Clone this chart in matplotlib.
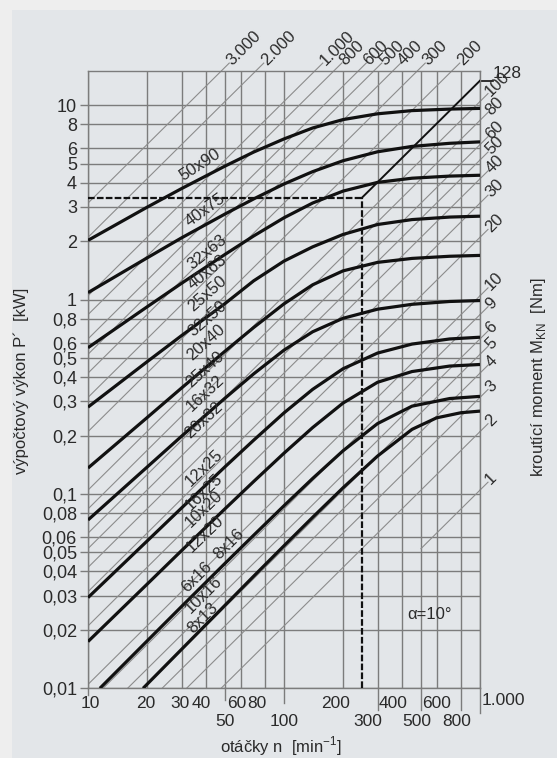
import numpy as np
import matplotlib
matplotlib.use("Agg")
import matplotlib.pyplot as plt
from matplotlib.patches import Rectangle
import matplotlib.transforms as mtransforms

plt.rcParams['font.family'] = ['Liberation Sans', 'DejaVu Sans']
plt.rcParams['mathtext.fontset'] = 'custom'
plt.rcParams['mathtext.rm'] = 'Liberation Sans'

# ---- data ----
n_std = [10, 20, 30, 50, 70, 100, 140, 200, 300, 450, 700, 1000]
p_50x90 = [2.02, 2.99, 3.73, 4.87, 5.75, 6.72, 7.65, 8.45, 9.05, 9.4, 9.57, 9.65]
p_40x75 = [1.087, 1.64, 2.08, 2.76, 3.3, 3.94, 4.56, 5.19, 5.77, 6.15, 6.38, 6.49]
p_40x63 = [0.566, 0.918, 1.214, 1.71, 2.128, 2.64, 3.144, 3.621, 4.015, 4.219, 4.326, 4.37]
p_32x50 = [0.28, 0.479, 0.653, 0.955, 1.25, 1.58, 1.87, 2.166, 2.437, 2.584, 2.662, 2.69]
p_25x40 = [0.136, 0.247, 0.351, 0.543, 0.719, 0.952, 1.193, 1.407, 1.556, 1.631, 1.673, 1.69]
p_20x32 = [0.0735, 0.1374, 0.1982, 0.3113, 0.4151, 0.55, 0.6837, 0.8021, 0.8935, 0.9467,
           0.979, 0.99]
p_16x25 = [0.0293, 0.0572, 0.0847, 0.138, 0.1891, 0.2615, 0.3455, 0.441, 0.5312, 0.591,
           0.6279, 0.641]
p_12x20 = [0.0174, 0.0343, 0.0511, 0.0839, 0.1159, 0.1622, 0.2197, 0.2937, 0.3758, 0.4268,
           0.4554, 0.464]
n_8x16 = [11.5, 20, 30, 50, 70, 100, 140, 200, 300, 450, 700, 1000]
p_8x16 = [0.01, 0.0175, 0.02635, 0.04394, 0.0613, 0.087, 0.1202, 0.1668, 0.2303, 0.2832,
          0.3099, 0.318]
n_8x13 = [19.1, 30, 50, 70, 100, 140, 200, 300, 450, 600, 800, 1000]
p_8x13 = [0.01, 0.01586, 0.02675, 0.03773, 0.05414, 0.07583, 0.1076, 0.1567, 0.2151, 0.2465,
          0.262, 0.267]

curves = [(n_std, p_50x90), (n_std, p_40x75), (n_std, p_40x63), (n_std, p_32x50),
          (n_std, p_25x40), (n_std, p_20x32), (n_std, p_16x25), (n_std, p_12x20),
          (n_8x16, p_8x16), (n_8x13, p_8x13)]

# curve labels: text, n, P, rotation
curve_labels = [('50x90', 37.3, 4.93, 33), ('40x75', 39.5, 2.89, 36),
                ('32x63', 40.5, 1.76, 39), ('40x63', 40.5, 1.39, 39),
                ('25x50', 40.5, 1.08, 41), ('32x50', 40.5, 0.80, 41),
                ('20x40', 40.0, 0.60, 42), ('25x40', 39.5, 0.44, 42),
                ('16x32', 39.5, 0.33, 43), ('20x32', 39.1, 0.24, 43),
                ('12x25', 39.1, 0.137, 44), ('16x25', 39.1, 0.102, 44),
                ('10x20', 39.1, 0.0836, 44), ('12x20', 39.5, 0.0622, 44),
                ('6x16', 35.9, 0.0373, 45), ('8x16', 52.4, 0.0552, 45),
                ('10x16', 39.1, 0.0302, 45), ('8x13', 38.6, 0.023, 45)]

# torque lines [Nm]
torque_right = [1, 2, 3, 4, 5, 6, 8, 10, 20, 30, 40, 50, 60, 80, 100]
torque_right_labels = ['1', '2', '3', '4', '5', '6', '9', '10', '20', '30',
                       '40', '50', '60', '80', '100']
torque_top = [200, 300, 400, 500, 600, 800, 1000, 2000, 3000]
torque_top_labels = ['200', '300', '400', '500', '600', '800', '1.000',
                     '2.000', '3.000']
torque_1_start = 500       # the 1 Nm line starts here
example_M = 128
example_n = 250

ytick_vals = [10, 8, 6, 5, 4, 3, 2, 1, 0.8, 0.6, 0.5, 0.4, 0.3, 0.2, 0.1,
              0.08, 0.06, 0.05, 0.04, 0.03, 0.02, 0.01]
ytick_labels = ['10', '8', '6', '5', '4', '3', '2', '1', '0,8', '0,6', '0,5',
                '0,4', '0,3', '0,2', '0,1', '0,08', '0,06', '0,05', '0,04',
                '0,03', '0,02', '0,01']
xgrid_vals = [10, 20, 30, 40, 50, 60, 80, 100, 200, 300, 400, 500, 600, 800, 1000]
# x tick labels: value, text, row, x offset in px
xtick_labels = [(10, '10', 0, 2), (20, '20', 0, -1), (30, '30', 0, -2),
                (40, '40', 0, -5), (50, '50', 1, 0), (60, '60', 0, -4),
                (80, '80', 0, -8), (100, '100', 1, 0), (200, '200', 0, -7),
                (300, '300', 1, -10), (400, '400', 0, -9), (500, '500', 1, -4),
                (600, '600', 0, 0), (800, '800', 1, -4)]
# ticks extended below the frame (px)
xtick_ext = [(10, 7), (50, 12), (100, 15), (300, 22), (500, 22), (800, 22), (1000, 25)]

XMIN, XMAX = 10, 1000
YMIN, YMAX = 0.01, 15.03
K = 9550.0

W, H = 557, 758
fig = plt.figure(figsize=(W / 100, H / 100), dpi=100, facecolor='#eeeeee')
fig.patches.append(Rectangle((12 / W, 0), 1 - 12 / W, 1 - 10 / H, transform=fig.transFigure,
                             facecolor='#e3e6e9', edgecolor='none', zorder=-5))
ax = fig.add_axes([88 / W, 1 - 688.3 / H, (480 - 88) / W, (688.3 - 71) / H])
ax.set_facecolor('none')
ax.set_xscale('log')
ax.set_yscale('log')
ax.set_xlim(XMIN, XMAX)
ax.set_ylim(YMIN, YMAX)

gc = '#7c7c7c'
tc = '#2a2a2a'
for v in xgrid_vals:
    ax.axvline(v, color=gc, lw=1.0, zorder=1)
for v in ytick_vals:
    ax.axhline(v, color=gc, lw=1.0, zorder=1)
for s in ax.spines.values():
    s.set_color(gc)
    s.set_linewidth(1.0)

# diagonal torque lines
dc = '#8c8c8c'
k_ext = 10 ** (8 / 196)
for M, lab in zip(torque_right, torque_right_labels):
    n0 = torque_1_start if M == 1 else 1
    ax.plot([n0, 1e4], [M * n0 / K, M * 1e4 / K], color=dc, lw=0.8, zorder=2)
    pe = M * XMAX / K
    ax.plot([XMAX, XMAX * k_ext], [pe, pe * k_ext], color=dc, lw=0.8, clip_on=False)
    ax.text(XMAX * k_ext, pe * k_ext, lab, rotation=45, rotation_mode='anchor',
            ha='left', va='center', fontsize=12, color=tc)
for M, lab in zip(torque_top, torque_top_labels):
    ax.plot([1, 1e4], [M / K, M * 1e4 / K], color=dc, lw=0.8, zorder=2)
    ne = YMAX * K / M
    ax.plot([ne, ne * k_ext], [YMAX, YMAX * k_ext], color=dc, lw=0.8, clip_on=False)
    ax.text(ne * k_ext, YMAX * k_ext, lab, rotation=45, rotation_mode='anchor',
            ha='left', va='center', fontsize=12, color=tc)

# worked example: 128 Nm at 250 1/min
pex = example_M * example_n / K
ax.plot([example_n, XMAX], [pex, example_M * XMAX / K], color='#111111', lw=1.4, zorder=3)
ax.plot([XMAX, XMAX * 10 ** (13 / 196)], [example_M * XMAX / K] * 2, color='#111111',
        lw=1.2, clip_on=False)
ax.text(XMAX * 10 ** (13 / 196), example_M * XMAX / K, '128', ha='left', va='bottom',
        fontsize=12.5, color=tc)
ax.plot([XMIN, example_n], [pex, pex], color='#111111', lw=1.6, ls=(0, (3, 1)), zorder=3)
ax.plot([example_n, example_n], [YMIN, pex], color='#111111', lw=1.6, ls=(0, (3, 1)), zorder=3)

# transmission curves
for nn, pp in curves:
    ax.plot(nn, pp, color='#111111', lw=2.3, zorder=4, solid_capstyle='butt',
            solid_joinstyle='round')
for lab, nx, py, rot in curve_labels:
    ax.text(nx, py, lab, rotation=rot, rotation_mode='anchor', ha='center', va='center',
            fontsize=12, color=tc, zorder=5)

ax.text(0.87, 0.12, 'α=10°', transform=ax.transAxes, fontsize=12, color=tc,
        ha='center', va='center', zorder=5)

# y ticks
ax.yaxis.set_minor_locator(matplotlib.ticker.NullLocator())
ax.set_yticks(ytick_vals)
ax.set_yticklabels(ytick_labels)
ax.tick_params(axis='y', length=6, width=1.0, color=gc, pad=2, labelsize=13,
               labelcolor=tc)
# x ticks drawn by hand
ax.xaxis.set_minor_locator(matplotlib.ticker.NullLocator())
ax.set_xticks([])
bt = mtransforms.blended_transform_factory(ax.transData, ax.transAxes)
hpx = 688.3 - 71
for v, ext in xtick_ext:
    ax.plot([v, v], [0, -ext / hpx], color=gc, lw=1.0, transform=bt, clip_on=False)
for v, lab, row, dx in xtick_labels:
    ax.annotate(lab, xy=(v, 0), xycoords=bt, xytext=(dx, -15 if row == 0 else -33),
                textcoords='offset pixels', ha='center', va='center', fontsize=12.5,
                color=tc)
ax.annotate('1.000', xy=(XMAX, 0), xycoords=bt, xytext=(2, -12), textcoords='offset pixels',
            ha='left', va='center', fontsize=12.5, color=tc)

fig.text(21 / W, 1 - 381 / H, 'výpočtový výkon P´  [kW]', rotation=90, ha='center',
         va='center', fontsize=12, color=tc)
fig.text(538 / W, 1 - 377 / H, 'kroutící moment M$_{\\mathrm{KN}}$  [Nm]', rotation=90,
         ha='center', va='center', fontsize=12, color=tc)
fig.text(281 / W, 1 - 746 / H, 'otáčky n  [min$^{-1}$]', ha='center', va='center',
         fontsize=12, color=tc)

fig.savefig('out.png', dpi=100, facecolor=fig.get_facecolor())
